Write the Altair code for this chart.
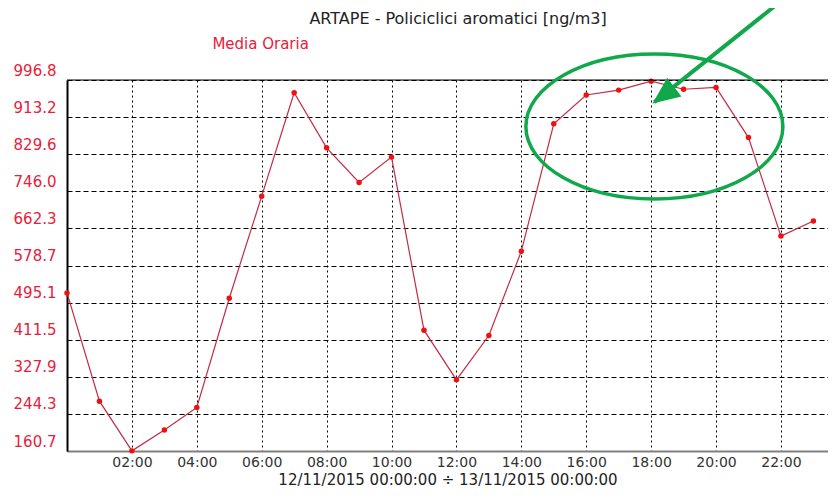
import altair as alt
import pandas as pd

# ---- data ----
hours = ["00:00", "01:00", "02:00", "03:00", "04:00", "05:00", "06:00", "07:00",
         "08:00", "09:00", "10:00", "11:00", "12:00", "13:00", "14:00", "15:00",
         "16:00", "17:00", "18:00", "19:00", "20:00", "21:00", "22:00", "23:00"]
values = [517, 273, 161, 208, 259, 505, 735, 968,
          844, 766, 823, 433, 321, 421, 611, 898,
          963, 974, 994, 976, 980, 867, 645, 679]
y_ticks = [160.7, 244.3, 327.9, 411.5, 495.1, 578.7, 662.3, 746.0, 829.6, 913.2, 996.8]
x_tick_hours = [2, 4, 6, 8, 10, 12, 14, 16, 18, 20, 22]
day = "2015-11-12"
title_text = "ARTAPE - Policiclici aromatici [ng/m3]"
legend_text = "Media Oraria"
x_title = "12/11/2015 00:00:00 \u00f7 13/11/2015 00:00:00"

# annotation anchors (data coordinates)
ellipse_at = {"t": day + " 18:06", "v": 892}
arrow_from = {"t": day + " 22:21", "v": 1195}
arrow_to = {"t": day + " 18:06", "v": 947}
legend_at = {"t": day + " 05:58", "v": 1078}
title_at = {"t": day + " 12:03", "v": 1135}

df = pd.DataFrame({"t": [day + " " + h for h in hours], "v": values})

FONT = "DejaVu Sans"
RED_TXT = "#e8203a"
GREEN = "#10a84a"

xscale = alt.Scale(domain=[alt.DateTime(year=2015, month=11, date=12, hours=0),
                           alt.DateTime(year=2015, month=11, date=12, hours=23, minutes=27)],
                   nice=False)
yscale = alt.Scale(domain=[160.7, 996.8], nice=False, zero=False)

x_vals = [alt.DateTime(year=2015, month=11, date=12, hours=h) for h in x_tick_hours]

base = alt.Chart(df)

xenc = alt.X("t:T", scale=xscale, title=x_title,
             axis=alt.Axis(values=x_vals, tickCount=30, format="%H:%M", grid=True, ticks=False,
                           gridColor="#000", gridDash=[2, 3], gridWidth=1, gridOpacity=1,
                           domainColor="#808080", domainWidth=2, labelOverlap=False,
                           labelFont=FONT, labelFontSize=14, labelColor="#333",
                           labelPadding=4, titleFont=FONT, titleFontSize=15,
                           titleFontWeight="normal", titleColor="#222", titlePadding=3))
yenc = alt.Y("v:Q", scale=yscale, title=None,
             axis=alt.Axis(values=y_ticks, tickCount=30, format=".1f", grid=True, ticks=False,
                           gridColor="#000", gridDash=[5, 3], gridWidth=1, gridOpacity=1,
                           domainColor="#000", domainWidth=2, labelOverlap=False,
                           labelFont=FONT, labelFontSize=15, labelColor=RED_TXT,
                           labelPadding=11, labelOffset=-10))

line = base.mark_line(color="#c42a44", strokeWidth=1.2).encode(x=xenc, y=yenc)
pts = base.mark_circle(color="#ee1111", size=30, opacity=1).encode(x="t:T", y="v:Q")

top_border = alt.Chart(pd.DataFrame({"v": [996.8]})).mark_rule(
    color="#000", strokeWidth=1.2).encode(y=alt.Y("v:Q", scale=yscale))

a = 0.564
k = 0.5523
ell_path = (f"M -1 0 C -1 {-k*a:.4f} {-k:.4f} {-a} 0 {-a} "
            f"C {k:.4f} {-a} 1 {-k*a:.4f} 1 0 "
            f"C 1 {k*a:.4f} {k:.4f} {a} 0 {a} "
            f"C {-k:.4f} {a} -1 {k*a:.4f} -1 0 Z")
ellipse = alt.Chart(pd.DataFrame([ellipse_at])).mark_point(
    shape=ell_path, size=257 * 257, filled=False, stroke=GREEN, strokeWidth=3.5,
    opacity=1, clip=False).encode(x="t:T", y="v:Q")

arrow_df = pd.DataFrame([{"t": arrow_from["t"], "v": arrow_from["v"],
                          "t2": arrow_to["t"], "v2": arrow_to["v"]}])
arrow_line = alt.Chart(arrow_df).mark_rule(
    color=GREEN, strokeWidth=4, clip=False).encode(
    x="t:T", y="v:Q", x2="t2:T", y2="v2:Q")
head = alt.Chart(pd.DataFrame([arrow_to])).mark_point(
    shape="M 0 0 L -0.85 2 L 0.85 2 Z", size=576, filled=True, fill=GREEN,
    stroke=GREEN, opacity=1, angle=233, clip=False).encode(x="t:T", y="v:Q")

legend = alt.Chart(pd.DataFrame([dict(legend_at, label=legend_text)])).mark_text(
    font=FONT, fontSize=15, color=RED_TXT, clip=False).encode(
    x="t:T", y="v:Q", text="label:N")

title = alt.Chart(pd.DataFrame([dict(title_at, label=title_text)])).mark_text(
    font=FONT, fontSize=16, color="#222", clip=False).encode(
    x="t:T", y="v:Q", text="label:N")

chart = alt.layer(line, pts, top_border, ellipse, arrow_line, head, legend, title).properties(
    width=761, height=371,
    padding={"left": 59, "top": 72, "right": 0, "bottom": 40},
    autosize=alt.AutoSizeParams(type="none"),
).configure_view(strokeWidth=0).configure(background="white")

chart.save("out.html", embed_options={"renderer": "svg", "actions": False})
